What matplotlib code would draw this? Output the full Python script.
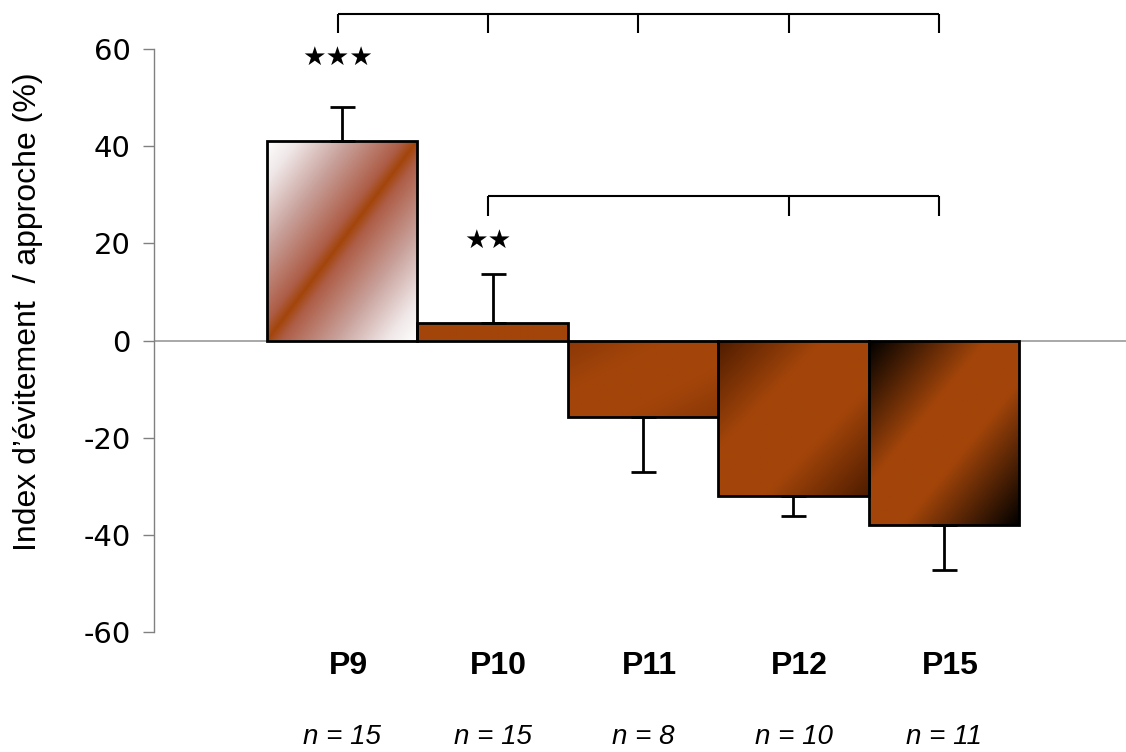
import numpy as np
import matplotlib
matplotlib.use("Agg")
import matplotlib.pyplot as plt
from matplotlib.colors import to_rgb

# ---- data ----
groups = ["P9", "P10", "P11", "P12", "P15"]
n_labels = ["n = 15", "n = 15", "n = 8", "n = 10", "n = 11"]
means = [41.0, 3.5, -15.8, -32.1, -37.9]
errors = [7.1, 10.1, 11.2, 4.1, 9.4]
stars = ["★★★", "★★", "", "", ""]
bracket_top = [0, 1, 2, 3, 4]       # groups joined by the upper bracket
bracket_low = [1, 3, 4]             # groups joined by the lower bracket
yticks = [60, 40, 20, 0, -20, -40, -60]

# gradient stops per bar: (positions from diagonal to corner, colours)
grad_stops = [
    ([0.0, 0.1, 0.45, 0.8, 1.0], ["#A3450A", "#AE5E48", "#C8A09A", "#F0E8E8", "#FFFFFF"]),
    ([0.0, 1.0], ["#A3450A", "#A3450A"]),
    ([0.0, 0.35, 1.0], ["#A3450A", "#A3450A", "#8A3707"]),
    ([0.0, 0.3, 1.0], ["#A3450A", "#A3450A", "#4E1C00"]),
    ([0.0, 0.22, 1.0], ["#A3450A", "#A3450A", "#000000"]),
]

fig = plt.figure(figsize=(11.26, 7.52), dpi=100)
ax = fig.add_axes([154 / 1126, 1 - 632 / 752, 1 - 154 / 1126, 583 / 752])

x = np.arange(len(groups))
width = 1.0
bars = ax.bar(x, means, width=width, facecolor="none", edgecolor="black",
              linewidth=2, zorder=3)

# gradient fills clipped to bars
nx, ny = 200, 300
u = np.linspace(0, 1, nx)[None, :]
v = np.linspace(0, 1, ny)[:, None]
t = np.abs(u - v)
for i, b in enumerate(bars):
    x0 = b.get_x()
    x1 = x0 + b.get_width()
    y0 = min(0, means[i])
    y1 = max(0, means[i])
    pos, cols = grad_stops[i]
    cols = np.array([to_rgb(c) for c in cols])
    img = np.stack([np.interp(t, pos, cols[:, k]) for k in range(3)], axis=-1)
    im = ax.imshow(img, extent=(x0, x1, y0, y1), origin="lower", aspect="auto",
                   interpolation="bilinear", zorder=2)
    im.set_clip_path(b)

# error bars (one-sided, away from zero)
for i in range(len(groups)):
    if means[i] >= 0:
        yerr = [[0], [errors[i]]]
    else:
        yerr = [[errors[i]], [0]]
    ax.errorbar(x[i], means[i], yerr=yerr, fmt="none", ecolor="black",
                elinewidth=2, capsize=9, capthick=2, zorder=4)

ax.axhline(0, color="#999999", linewidth=1.2, zorder=1)

ax.set_xlim(-1.25, 5.21)
ax.set_ylim(-60, 60)
ax.set_yticks(yticks)
ax.set_yticklabels([str(t_) for t_ in yticks], fontsize=21, family="DejaVu Sans")
ax.tick_params(axis="y", direction="out", length=8, width=1, color="#808080", pad=9)
ax.set_xticks([])
for s in ["top", "right", "bottom"]:
    ax.spines[s].set_visible(False)
ax.spines["left"].set_color("#808080")
ax.spines["left"].set_linewidth(1)

fig.text(28 / 1126, 1 - 312 / 752, "Index d\u2019évitement  / approche (%)",
         rotation=90, ha="center", va="center", fontsize=23,
         family="Liberation Sans")

# group labels
for i in range(len(groups)):
    ax.text(x[i] + 0.04, -67.1, groups[i], ha="center", va="center", fontsize=23,
            fontweight="bold", family="Liberation Sans", clip_on=False)
    ax.text(x[i], -81.7, n_labels[i], ha="center", va="center", fontsize=20,
            style="italic", family="Liberation Sans", clip_on=False)

# stars
star_y = [58.1, 20.6]
for i in range(len(groups)):
    if stars[i]:
        ax.text(x[i] - 0.03, star_y[i], stars[i], ha="center", va="center",
                fontsize=19, family="DejaVu Sans", clip_on=False)

# brackets
def bracket(idx, ytop, ybot):
    xs = [x[k] - 0.03 for k in idx]
    ax.plot([xs[0], xs[-1]], [ytop, ytop], color="black", lw=1.5,
            clip_on=False, solid_capstyle="butt")
    for xx in xs:
        ax.plot([xx, xx], [ytop, ybot], color="black", lw=1.5, clip_on=False,
                solid_capstyle="butt")

bracket(bracket_top, 67.3, 63.2)
bracket(bracket_low, 29.8, 25.7)

fig.savefig("out.png", dpi=100)
